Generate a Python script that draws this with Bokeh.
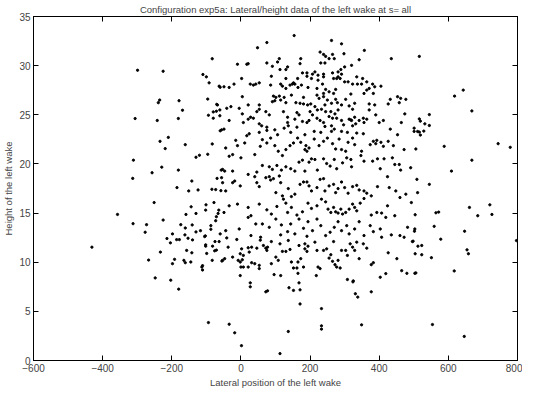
from bokeh.plotting import figure
from bokeh.models import Range1d, LinearAxis, FixedTicker, ColumnDataSource
from bokeh.embed import file_html
from bokeh.resources import INLINE

# (lateral position, height) pairs, grouped by region
upper_left = [(-299,29.53),(-225,29.43),(-83,30.7),(-110,29.1),(-100,28.86),(-92,28.25),(-60,27.8),
    (-235,26.5),(-239,26.23),(-179,26.43),(-96,26.6),(-70,26.06),(-169,25.46),(-80,25.29),(-71,25.36),
    (-61,25.49),(-94,24.95),(-80,24.65),(-61,24.9),(-306,24.62),(-242,24.42),(-181,24.62)]

mid_left = [(-60,23.37),(-234,22.3),(-210,22.7),(-219,21.56),(-161,21.96),(-83,22.03),(-130,20.68),
    (-120,20.88),(-96,20.98),(-311,20.38),(-229,19.67),(-181,19.37),(-57,19.37),(-257,19.1),(-313,18.53),
    (-69,18.53),(-142,18.26),(-185,17.59),(-151,17.25),(-124,17.35),(-84,17.42),(-73,17.39),(-58,17.28),
    (-251,16.07),(-78,16.07),(-101,15.84),(-102,15.3),(-64,15.3),(-144,15.64),(-357,14.86),(-159,14.86),
    (-130,14.96),(-66,14.96),(-71,14.63),(-73,14.22),(-225,14.29),(-312,13.92),(-273,13.82),(-174,13.82),
    (-141,13.79),(-161,13.48),(-87,13.72),(-87,13.35),(-117,13.21),(-130,13.08),(-277,13.05),(-198,12.88),
    (-60,12.88),(-162,12.78),(-103,12.68),(-214,12.41),(-186,12.3),(-178,12.3),(-153,12.44),(-140,12.27)]

low_left = [(-431,11.53),(-267,10.22),(-248,8.4),(-233,11.03),(-204,11.97),(-198,9.85),(-192,10.29),
    (-203,8.17),(-180,7.26),(-157,11.2),(-142,10.96),(-161,9.95),(-165,10.19),(-145,10.02),(-105,12.61),
    (-102,11.77),(-102,11.63),(-82,11.63),(-75,12.1),(-63,12.1),(-76,11.16),(-71,11.23),(-99,10.89),
    (-83,10.19),(-55,10.12),(-111,9.65),(-113,9.51),(-111,9.21),(-94,3.86)]

low_center = [(-34,3.69),(-18,2.82),(1.6,1.51),(113,0.7),(137,2.95),(233,3.53),(233,3.19),(349,3.63),
    (233,5.28),(171,5.75),(27,7.9),(27,7.5),(72,6.99),(77,7.09),(139,7.4),(152,7.13),(171,7.19),(168,7.9),
    (308,8.24),(325,8.1),(324,8.0),(331,6.79),(338,6.45),(377,6.99),(403,8.47),(419,8.84),(465,9.14),
    (480,8.87),(503,8.87),(-2,8.64),(96,8.74),(115,8.64),(218,8.64),(165,8.87),
    (-53,10.19),(-47,10.36),(-24,10.52),(-12,12.31),(-41,12.47),(-37,11.53),(-8,10.19),(-2,10.02),(4,10.25),
    (0,9.51),(7,9.51),(21,9.51),(-2,10.86),(7,10.69),(2,11.36),(24,11.03),(21,11.47),(31,11.53),(46,11.43),
    (56,12.24),(65,11.7),(72,11.43),(75,11.2),(77,11.53),(53,9.68),(53,9.35),(40,9.85),(31,9.95),(88,12.1),
    (88,9.85),(101,10.52),(108,10.19),(113,11.87),(120,11.1),(130,11.1),(137,12.21),(142,11.3),(146,10.02),
    (152,9.41),(162,9.41),(165,10.02),(173,10.36),(181,9.51),(185,11.36),(191,11.1),(194,11.63),(185,11.87),
    (168,11.7),(214,12.04),(220,11.2),(223,9.51),(229,9.35),(239,11.2),(248,11.36),(255,10.42),(260,10.76),
    (268,12.1),(265,10.09),(272,9.75),(277,9.51),(287,9.41),(281,10.19),(291,11.2),(303,11.2),(308,10.69),
    (316,11.87),(323,11.53),(329,11.2),(335,12.04),(342,10.36),(354,11.87),(364,11.43),(377,9.75),
    (383,9.95),(407,12.54),(426,10.96),(451,10.36),(496,12.1),(472,12.54)]

low_right = [(578,12.34),(654,11.26),(658,10.86),(617,9.11),(551,10.46),(523,10.76),(504,10.86),
    (512,11.63),(523,11.7),(498,12.14),(506,8.91),(554,3.66),(646,2.45),(797,12.2)]

mid_right = [(516,24.58),(519,24.35),(532,24.08),(545,23.91),(501,23.64),(511,23.3),(516,23.24),
    (519,22.94),(529,23.34),(588,21.79),(744,22.06),(779,21.69),(668,20.38),(609,19.27),(509,18.43),
    (545,17.92),(511,17.08),(720,15.84),(661,15.57),(726,14.86),(685,14.73),(564,15.03),(572,15.1),
    (504,14.83),(559,13.65),(502,13.15),(647,13.15)]

upper_right = [(516,30.94),(643,27.51),(618,26.9),(668,25.39),(545,25.02)]

upper_center = [(154,33.06),(75,32.35),(48,31.82),(262,32.56),(291,32.22),(357,31.55),(229,31.38),
    (239,31.14),(245,30.94),(265,31.14),(255,30.71),(270,30.71),(298,31.21),(231,30.27),(243,30.27),
    (342,30.6),(435,30.71),(111,30.71),(106,30.37),(173,30.71),(75,30.27),(17,30.14),(21,30.2),(-10,30.14),
    (91,29.93),(171,30.2),(135,29.87),(113,29.6),(130,29.6),(88,28.92),(2,28.69),(130,28.69),(164,28.69),
    (178,29.26),(191,28.92),(191,29.26),(214,29.36),(207,29.13),(223,29.03),(239,29.13),(239,28.86),
    (265,29.26),(281,29.36),(289,29.6),(300,29.87),(320,30.03),(291,29.13),(268,28.69),(277,28.69),
    (281,28.86),(223,28.52),(204,28.69),(236,28.12),(175,28.02),(149,28.12),(142,28.02),(156,28.12),
    (152,28.25),(115,28.12),(120,27.91),(86,28.02),(130,27.68),(165,27.78),(194,27.78),(220,27.68),
    (245,27.58),(255,27.34),(239,27.17),(268,27.17),(274,27.58),(287,28.69),(300,28.35),(310,28.35),
    (335,28.86),(352,28.69),(349,28.12),(364,28.35),(337,28.12),(381,28.12),(387,27.85),(405,27.91),
    (371,27.68),(364,27.51),(383,27.17),(356,27.17),(323,28.12),(36,28.02),(27,28.12),(43,28.12),(53,28.25),
    (-20,28.12),(-34,27.78),(-49,27.85),(-63,27.91),(94,26.9),(101,26.77),(111,26.9),(115,26.5),(125,26.77),
    (98,26.43),(91,26.33),(130,26.23),(146,27.0),(181,26.77),(220,27.0),(226,26.67),(239,26.84),(250,26.5),
    (243,26.0),(262,26.17),(274,26.57),(279,26.23),(291,26.0),(303,26.57),(313,25.9),(323,25.56),
    (329,26.17),(318,27.11),(159,26.23),(171,26.17),(181,26.1),(193,26.0),(202,26.1),(214,25.83),
    (221,25.49),(233,25.56),(245,25.32),(260,25.32),(272,25.09),(281,25.49),(371,26.1),(387,26.0),
    (432,26.57),(453,26.84),(462,26.67),(477,26.57),(426,26.1),(458,26.23),(474,25.09),(53,26.0),(53,25.56),
    (21,26.0),(4,26.84),(-5,25.66),(-29,25.83),(-41,25.66),(-68,26.0),(4,25.09),(28,24.75),(46,25.32),
    (72,25.32),(82,24.99),(123,25.32),(135,24.75),(162,25.22),(168,24.99),(200,25.32),(207,24.99),
    (255,24.82),(265,24.65),(318,24.48),(329,24.75),(354,24.65),(371,25.49),(390,24.99)]

core = [(-34,24.42),(7,24.21),(21,24.55),(36,24.65),(53,24.08),(60,23.88),(75,23.74),(75,23.41),(53,23.21),
    (24,23.07),(17,22.87),(-56,23.47),(-49,23.54),(135,24.21),(137,23.88),(156,24.55),(162,23.74),
    (178,24.32),(191,24.21),(197,24.42),(220,24.65),(229,24.42),(239,24.21),(243,23.81),(262,23.88),
    (270,23.54),(262,23.31),(277,24.65),(291,24.42),(297,23.98),(313,24.55),(320,24.42),(323,23.88),
    (332,24.08),(342,24.42),(356,24.21),(364,24.55),(400,24.21),(412,24.42),(464,24.21),(432,23.54),
    (501,23.31),(453,22.97),(98,23.47),(106,22.97),(125,23.64),(144,23.21),(185,22.97),(212,23.31),
    (231,23.21),(291,23.31),(308,23.21),(335,23.14),(354,23.07),
    (-15,22.4),(-10,21.86),(11,22.13),(-44,21.62),(-24,20.95),(-34,20.78),(0,20.62),(40,20.95),(56,21.79),
    (62,22.47),(75,22.13),(86,22.63),(98,21.86),(108,21.29),(120,20.85),(130,21.46),(142,21.86),(152,22.13),
    (164,22.63),(173,22.2),(185,21.46),(191,21.29),(188,21.86),(197,21.62),(212,22.53),(226,21.86),
    (239,22.3),(250,22.63),(265,22.06),(274,21.52),(284,22.53),(291,21.46),(303,21.29),(310,22.2),
    (323,22.63),(329,21.96),(349,21.29),(374,21.96),(383,22.3),(393,22.4),(390,22.06),(405,22.2),
    (412,21.79),(426,22.3),(441,21.86),(472,21.46),(506,21.52),
    (-53,19.44),(-47,19.27),(-24,19.27),(21,18.93),(46,19.17),(62,19.84),(82,19.71),(91,19.44),(104,19.84),
    (117,19.37),(130,19.71),(144,19.51),(156,19.27),(168,20.18),(178,20.38),(185,19.27),(197,20.18),
    (204,20.52),(214,20.45),(221,19.37),(239,20.52),(248,20.04),(258,19.78),(270,20.45),(277,19.51),
    (294,20.11),(306,20.62),(318,20.45),(320,19.71),(347,20.85),(356,20.28),(381,20.28),(395,20.52),
    (414,20.52),(438,20.62),(445,19.94),(458,19.94),(403,19.51),(424,18.7),(462,19.37),(491,19.61),
    (-56,18.6),(-24,18.09),(-18,18.26),(-2,17.76),(-44,17.25),(40,18.7),(46,18.09),(53,17.69),(72,18.6),
    (82,18.7),(86,18.36),(94,18.5),(111,18.77),(115,18.09),(101,17.08),(120,16.75),(137,17.49),(146,16.68),
    (156,16.92),(171,17.92),(181,18.16),(191,18.16),(197,17.76),(204,17.25),(220,17.59),(229,18.43),
    (239,18.5),(243,17.25),(255,17.76),(268,17.92),(274,17.08),(281,17.49),(291,18.16),(300,17.59),
    (310,17.02),(323,17.69),(335,17.82),(342,17.35),(356,17.25),(364,17.02),(377,16.75),(395,17.69),
    (429,17.59),(448,17.25),(477,16.92),(-53,18.09),
    (-49,15.06),(-34,15.74),(-10,15.91),(21,15.57),(29,14.73),(53,15.91),(75,15.33),(88,14.9),(104,15.67),
    (123,16.41),(130,16.01),(135,15.06),(146,15.57),(162,14.8),(178,15.13),(194,16.01),(204,15.47),
    (220,15.74),(233,16.41),(245,16.14),(252,15.4),(260,15.06),(268,15.57),(274,15.13),(281,15.0),
    (289,15.4),(294,14.9),(303,15.06),(313,15.4),(323,15.91),(329,15.57),(335,15.23),(345,16.01),
    (356,16.48),(377,14.8),(393,15.06),(407,15.0),(424,15.74),(445,14.73),(493,16.07),(460,16.58),
    (-44,13.21),(-5,13.38),(21,14.56),(43,13.89),(62,13.89),(82,13.55),(101,14.39),(117,13.79),(135,13.11),
    (144,13.89),(168,14.39),(181,13.45),(194,14.12),(207,13.21),(220,14.39),(231,13.72),(245,12.71),
    (258,13.05),(270,13.55),(281,14.12),(291,13.21),(306,13.72),(313,12.88),(329,13.38),(342,14.12),
    (356,12.71),(374,13.72),(383,13.11),(403,13.38),(419,14.56),(435,12.78),(460,12.71),(482,13.55),
    (503,13.38),(29,12.71),(57,12.54),(115,12.78),(156,12.88),(191,12.64)]

groups = [upper_left, mid_left, low_left, low_center, low_right, mid_right, upper_right, upper_center, core]
lateral = [pt[0] for g in groups for pt in g]
height = [pt[1] for g in groups for pt in g]

x_ticks = [-600, -400, -200, 0, 200, 400, 600, 800]
y_ticks = [0, 5, 10, 15, 20, 25, 30, 35]

FONT = "Liberation Sans"

p = figure(width=522, height=390, output_backend="svg", toolbar_location=None,
           x_range=Range1d(-600, 800), y_range=Range1d(0, 35),
           min_border_left=33, min_border_right=5, min_border_top=16, min_border_bottom=27)
p.title.text = "Configuration exp5a: Lateral/height data of the left wake at s= all"
p.title.align = "center"
p.title.text_font = FONT
p.title.text_font_size = "9.5px"
p.title.text_font_style = "normal"
p.title.standoff = 3
p.xgrid.visible = False
p.ygrid.visible = False
p.outline_line_color = "black"
p.outline_line_width = 1
p.background_fill_color = "white"
p.border_fill_color = "white"

src = ColumnDataSource(dict(x=lateral, y=height))
p.scatter("x", "y", source=src, marker="circle", size=2.3, color="black")

for ax, ticks in ((p.xaxis[0], x_ticks), (p.yaxis[0], y_ticks)):
    ax.ticker = FixedTicker(ticks=ticks)
    ax.major_tick_in = 5
    ax.major_tick_out = 0
    ax.minor_tick_in = 0
    ax.minor_tick_out = 0
    ax.axis_line_color = "black"
    ax.major_tick_line_color = "black"
    ax.major_label_text_font = FONT
    ax.major_label_text_font_size = "10px"
    ax.major_label_standoff = 3
    ax.axis_label_text_font = FONT
    ax.axis_label_text_font_size = "9.5px"
    ax.axis_label_text_font_style = "normal"
    ax.axis_label_standoff = 2

p.xaxis.axis_label = "Lateral position of the left wake"
p.yaxis.axis_label = "Height of the left wake"

# mirrored inward ticks on the top and right edges (no labels drawn)
for loc, ticks in (("above", x_ticks), ("right", y_ticks)):
    a = LinearAxis(ticker=FixedTicker(ticks=ticks), major_tick_in=5, major_tick_out=0,
                   minor_tick_in=0, minor_tick_out=0, major_label_text_font_size="1px",
                   major_label_text_color=None, major_label_standoff=0, axis_line_color="black")
    p.add_layout(a, loc)

open("out.html", "w").write(file_html(p, INLINE))
